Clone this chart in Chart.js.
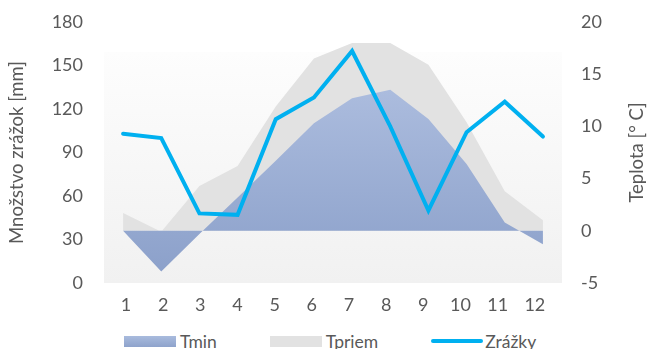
<!DOCTYPE html>
<html>
<head>
<meta charset="utf-8">
<script src="https://cdn.jsdelivr.net/npm/chart.js@4.4.0/dist/chart.umd.min.js"></script>
<style>
  html, body { margin: 0; padding: 0; background: #fff; }
  #wrap { position: relative; width: 647px; height: 349px; font-family: Lato, sans-serif; }
  #chartBox { position: absolute; left: 0; top: 0; width: 647px; height: 320px; }
  #legend { position: absolute; left: 124px; top: 331px; height: 20px; display: flex; align-items: center; font-size: 17.5px; color: #595959; }
  .item { display: flex; align-items: center; margin-right: 53px; }
  .item:last-child { margin-right: 0; }
  .swatch { width: 52px; height: 11px; margin-right: 4px; }
  .swatch.line { height: 4px; border-radius: 2px; margin-right: 2px; }
</style>
</head>
<body>
<div id="wrap">
  <div id="chartBox"><canvas id="climateChart"></canvas></div>
  <div id="legend"></div>
</div>
<script>
// --- data ---
const months = ['1', '2', '3', '4', '5', '6', '7', '8', '9', '10', '11', '12'];
const tmin = [0.0, -3.9, -0.3, 3.2, 6.7, 10.3, 12.7, 13.5, 10.7, 6.4, 0.8, -1.3];
const tpriem = [1.7, -0.1, 4.3, 6.2, 11.9, 16.5, 18.0, 18.0, 15.9, 10.4, 3.8, 1.0];
const zrazky = [103, 100, 48, 47, 113, 128, 160, 108, 50, 104, 125, 101];

const textColor = '#595959';
const font = { family: 'Lato', size: 18 };

function tminFill(c) {
    const { ctx, chartArea } = c.chart;
    if (!chartArea) return '#9fb2d8';
    const g = ctx.createLinearGradient(0, chartArea.top, 0, chartArea.bottom);
    g.addColorStop(0, '#b7c6e5');
    g.addColorStop(1, '#8a9fc9');
    return g;
}

// plot area background (light grey gradient)
const plotBackground = {
    id: 'plotBackground',
    beforeDatasetsDraw(chart) {
        const { ctx, chartArea: a } = chart;
        const top = a.top + 30;
        const g = ctx.createLinearGradient(0, top, 0, a.bottom);
        g.addColorStop(0, '#fdfdfd');
        g.addColorStop(1, '#f1f1f1');
        ctx.save();
        ctx.fillStyle = g;
        ctx.fillRect(a.left, top, a.right - a.left, a.bottom - top);
        ctx.restore();
    }
};

// right axis title reads bottom-to-top like the left one
const rightTitle = {
    id: 'rightTitle',
    afterDraw(chart) {
        const { ctx, chartArea: a } = chart;
        ctx.save();
        ctx.translate(637, (a.top + a.bottom) / 2);
        ctx.rotate(-Math.PI / 2);
        ctx.font = '18.5px Lato';
        ctx.fillStyle = textColor;
        ctx.textAlign = 'center';
        ctx.textBaseline = 'middle';
        ctx.fillText('Teplota [° C]', 0, 0);
        ctx.restore();
    }
};

// fixed axis width, and no extra top/bottom padding from the tick padding
function fixWidth(w) {
    return s => {
        s.width = w;
        s.paddingTop = 0;
        s.paddingBottom = 0;
    };
}

const chart = new Chart(document.getElementById('climateChart'), {
    type: 'line',
    data: {
        labels: months,
        datasets: [
            {
                label: 'Tmin',
                data: tmin,
                yAxisID: 'yR',
                xAxisID: 'x',
                order: 1,
                fill: 'origin',
                backgroundColor: tminFill,
                borderWidth: 0,
                pointRadius: 0,
                tension: 0
            },
            {
                label: 'Tpriem',
                data: tpriem,
                yAxisID: 'yR',
                xAxisID: 'x',
                order: 2,
                fill: 'origin',
                backgroundColor: '#e2e2e2',
                borderWidth: 0,
                pointRadius: 0,
                tension: 0
            },
            {
                label: 'Zrážky',
                data: zrazky,
                yAxisID: 'yL',
                xAxisID: 'x',
                order: 0,
                fill: false,
                borderColor: '#00b0f0',
                backgroundColor: '#00b0f0',
                borderWidth: 4,
                borderCapStyle: 'round',
                pointRadius: 0,
                tension: 0
            }
        ]
    },
    options: {
        responsive: true,
        maintainAspectRatio: false,
        animation: false,
        events: [],
        layout: { padding: { top: 22, left: 0, right: 0, bottom: 0 } },
        plugins: { legend: { display: false }, tooltip: { enabled: false } },
        scales: {
            x: { type: 'category', offset: true, display: false },
            xl: {
                type: 'linear',
                position: 'bottom',
                min: 0.41,
                max: 12.73,
                afterBuildTicks: s => { s.ticks = months.map((m, i) => ({ value: i + 1 })); },
                afterFit: s => { s.height = 37; },
                grid: { display: false },
                border: { display: false },
                ticks: {
                    callback: v => months[v - 1],
                    font, color: textColor, padding: 3,
                    autoSkip: false, maxRotation: 0
                }
            },
            yL: {
                position: 'left',
                min: 0,
                max: 180,
                afterFit: fixWidth(104),
                grid: { display: false, drawTicks: false },
                border: { display: false },
                ticks: { stepSize: 30, font, color: textColor, padding: 21 },
                title: {
                    display: true,
                    text: 'Množstvo zrážok [mm]',
                    font: { family: 'Lato', size: 18.5 }, color: textColor,
                    padding: { top: 6, bottom: 0 }
                }
            },
            yR: {
                position: 'right',
                min: -5,
                max: 20,
                afterFit: fixWidth(85),
                grid: { display: false, drawTicks: false },
                border: { display: false },
                ticks: { stepSize: 5, font, color: textColor, padding: 19 }
            }
        }
    },
    plugins: [plotBackground, rightTitle]
});

// --- HTML legend built from the datasets ---
const legendSwatch = {
    'Tmin': 'linear-gradient(#a9bbdd, #8ea3cc)',
    'Tpriem': '#e2e2e2',
    'Zrážky': '#00b0f0'
};
const legendEl = document.getElementById('legend');
chart.data.datasets.forEach(ds => {
    const item = document.createElement('div');
    item.className = 'item';
    const sw = document.createElement('span');
    sw.className = 'swatch' + (ds.fill ? '' : ' line');
    sw.style.background = legendSwatch[ds.label];
    const txt = document.createElement('span');
    txt.textContent = ds.label;
    item.appendChild(sw);
    item.appendChild(txt);
    legendEl.appendChild(item);
});
</script>
</body>
</html>
